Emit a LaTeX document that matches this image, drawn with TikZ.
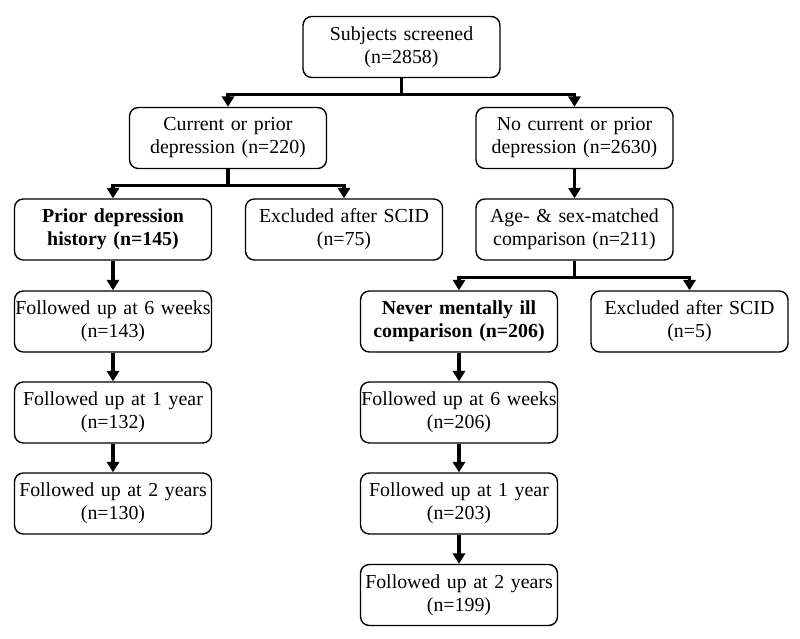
\documentclass[tikz,border=0pt]{standalone}
\usepackage{fontspec}
\setmainfont{Liberation Serif}
\usetikzlibrary{arrows.meta}
\tikzset{box/.style={draw, line width=.8pt, rounded corners=5pt, text width=3.94cm, inner xsep=0pt,
    minimum height=1.22cm, align=center, font=\fontsize{11.3}{13.1}\selectfont},
  link/.style={->, line width=1.8pt}}
\begin{document}
\begin{tikzpicture}[>={Triangle[length=6pt,width=7pt]}, x=.02cm, y=-.02cm]
    \useasboundingbox (0,0) rectangle (800,638);
    \node[box](screen) at (401.5,47) {Subjects screened\\(n=2858)};
    \node[box](cur) at (228,138) {Current or prior\\depression (n=220)};
    \node[box](nocur) at (574.5,138) {No current or prior\\depression (n=2630)};
    \node[box,font=\fontsize{11.3}{13.1}\selectfont\bfseries](prior) at (113,229.5) {Prior depression\\history (n=145)};
    \node[box](exclA) at (344,229.5) {Excluded after SCID\\(n=75)};
    \node[box](age) at (574.5,229.5) {Age- \& sex-matched\\comparison (n=211)};
    \node[box,font=\fontsize{11.3}{13.1}\selectfont\bfseries](never) at (459,321.5) {Never mentally ill\\comparison (n=206)};
    \node[box](exclB) at (689.5,321.5) {Excluded after SCID\\(n=5)};
    % follow-up, prior depression
    \node[box](pA) at (113,321.5) {Followed up at 6 weeks\\(n=143)};
    \node[box](pB) at (113,412.5) {Followed up at 1 year\\(n=132)};
    \node[box](pC) at (113,503.5) {Followed up at 2 years\\(n=130)};
    % follow-up, comparison
    \node[box](nA) at (459,412.5) {Followed up at 6 weeks\\(n=206)};
    \node[box](nB) at (459,503.5) {Followed up at 1 year\\(n=203)};
    \node[box](nC) at (459,595) {Followed up at 2 years\\(n=199)};
    \draw[link](screen.south)--++(0,16)-|(cur.north);
    \draw[link](screen.south)--++(0,16)-|(nocur.north);
    \draw[link](cur.south)--++(0,16)-|(prior.north);
    \draw[link](cur.south)--++(0,16)-|(exclA.north);
    \draw[link](age.south)--++(0,17)-|(never.north);
    \draw[link](age.south)--++(0,17)-|(exclB.north);
\foreach \a/\b in {nocur/age,prior/pA,pA/pB,pB/pC,never/nA,nA/nB,nB/nC}
{
    \draw[link](\a.south)--(\b.north);
}
\end{tikzpicture}
\end{document}
